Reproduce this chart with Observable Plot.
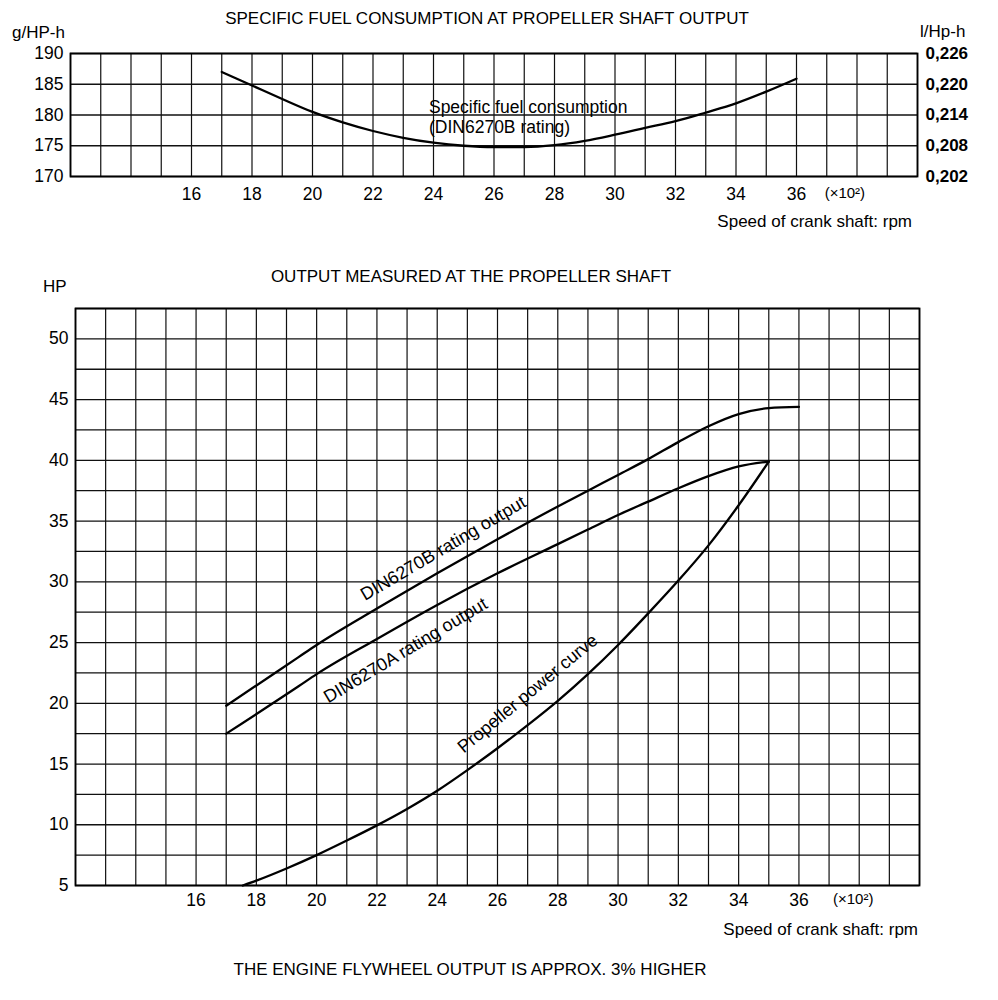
<!DOCTYPE html>
<html>
<head>
<meta charset="utf-8">
<script src="https://cdn.jsdelivr.net/npm/d3@7"></script>
<script src="https://cdn.jsdelivr.net/npm/@observablehq/plot@0.6"></script>
<style>
  html, body { margin: 0; padding: 0; background: #fff; }
  #root { position: relative; width: 998px; height: 1000px; background: #fff; overflow: hidden;
          font-family: "Liberation Sans", Arial, Helvetica, sans-serif; color: #000; }
  .lbl { position: absolute; font-size: 17px; line-height: 17px; white-space: nowrap; }
  .plot { position: absolute; left: 0; }
</style>
</head>
<body>
<div id="root"></div>
<script>
// ---------- data ----------
// Specific fuel consumption (g/HP-h) vs crank shaft speed (x100 rpm)
const sfcRpm = [17, 18, 19, 20, 21, 22, 23, 24, 25, 26, 27, 28, 29, 30, 31, 32, 33, 34, 35, 36];
const sfcGph = [187.0, 184.8, 182.6, 180.5, 178.8, 177.4, 176.3, 175.5, 175.0, 174.8, 174.8, 175.1, 175.8, 176.8, 177.9, 179.0, 180.4, 181.9, 183.8, 185.9];

// DIN6270B rating output (HP)
const rpmB = [17, 19.4, 20, 22, 24, 26, 28, 29, 30, 31, 32, 33, 34, 35, 36];
const hpB  = [19.8, 23.8, 24.8, 27.8, 30.7, 33.5, 36.2, 37.5, 38.8, 40.1, 41.5, 42.8, 43.8, 44.3, 44.4];

// DIN6270A rating output (HP)
const rpmA = [17, 19.4, 20, 22, 24, 26, 28, 29, 30, 31, 32, 33, 34, 35];
const hpA  = [17.5, 21.4, 22.4, 25.3, 28.1, 30.7, 33.1, 34.3, 35.5, 36.6, 37.7, 38.7, 39.5, 39.9];

// Propeller power curve (HP)
const rpmProp = [17.55, 18, 19, 20, 21, 22, 23, 24, 25, 26, 27, 28, 29, 30, 31, 32, 33, 34, 35];
const hpProp  = [5.0, 5.4, 6.4, 7.5, 8.7, 9.95, 11.3, 12.8, 14.5, 16.3, 18.2, 20.2, 22.4, 24.8, 27.4, 30.1, 33.0, 36.3, 39.9];

// axis ticks / labels
const xTickLabels = [16, 18, 20, 22, 24, 26, 28, 30, 32, 34, 36];
const xGrid = d3.range(12, 41, 1);
const sfcTicks = [170, 175, 180, 185, 190];
const lphLabels = ["0,202", "0,208", "0,214", "0,220", "0,226"];
const hpTicks = [5, 10, 15, 20, 25, 30, 35, 40, 45, 50];
const hpGrid = d3.range(5, 52.6, 2.5);
const unitNote = "(×10²)";

// ---------- helpers ----------
const root = document.getElementById("root");
const FONT = '"Liberation Sans", Arial, Helvetica, sans-serif';
function label(text, {left, right, cx, cy, size = 17, weight = "normal"}) {
  const d = document.createElement("div");
  d.className = "lbl";
  d.textContent = text;
  d.style.fontSize = size + "px";
  d.style.lineHeight = size + "px";
  d.style.fontWeight = weight;
  d.style.top = (cy - size * 0.5) + "px";
  if (left != null) d.style.left = left + "px";
  if (right != null) d.style.right = (998 - right) + "px";
  if (cx != null) { d.style.left = cx + "px"; d.style.transform = "translateX(-50%)"; }
  root.appendChild(d);
}
const toPts = (xs, ys) => xs.map((x, i) => ({x, y: ys[i]}));

// ---------- top chart: specific fuel consumption ----------
const lphMap = new Map(sfcTicks.map((t, i) => [t, lphLabels[i]]));
const chartTop = Plot.plot({
  width: 998, height: 240,
  marginTop: 53, marginBottom: 64, marginLeft: 70, marginRight: 81,
  style: {fontFamily: FONT, fontSize: "17px", background: "white", color: "black", overflow: "visible"},
  x: {domain: [12, 40]},
  y: {domain: [170, 190]},
  marks: [
    Plot.ruleX(xGrid, {x: d => d, stroke: "#111", strokeWidth: 1.2}),
    Plot.ruleY(sfcTicks, {y: d => d, stroke: "#111", strokeWidth: 1.3}),
    Plot.frame({stroke: "#000", strokeWidth: 1.8}),
    Plot.axisX(xTickLabels, {tickSize: 0, tickPadding: 11, fontSize: 17.5, label: null}),
    Plot.text([unitNote], {x: () => 37.6, frameAnchor: "bottom", lineAnchor: "middle", dy: 17, text: d => d, fontSize: 15}),
    Plot.axisY(sfcTicks, {anchor: "left", tickSize: 0, tickPadding: 7, fontSize: 17.5, label: null}),
    Plot.axisY(sfcTicks, {anchor: "right", tickSize: 0, tickPadding: 8, fontSize: 17, fontWeight: "bold",
                          tickFormat: d => lphMap.get(d), label: null}),
    Plot.line(toPts(sfcRpm, sfcGph), {x: "x", y: "y", curve: "monotone-x", stroke: "#000", strokeWidth: 2.3}),
    Plot.text(["Specific fuel consumption", "(DIN6270B rating)"], {
      x: () => 23.85, y: (d, i) => [181.3, 178.0][i], text: d => d,
      textAnchor: "start", fontSize: 17.5, fill: "#000"})
  ]
});
chartTop.classList.add("plot");
chartTop.style.top = "0px";
root.appendChild(chartTop);

// ---------- bottom chart: output at propeller shaft ----------
const chartBottom = Plot.plot({
  width: 998, height: 710,
  marginTop: 58, marginBottom: 75, marginLeft: 75, marginRight: 79,
  style: {fontFamily: FONT, fontSize: "17px", background: "white", color: "black", overflow: "visible"},
  x: {domain: [12, 40]},
  y: {domain: [5, 52.5]},
  marks: [
    Plot.ruleX(xGrid, {x: d => d, stroke: "#111", strokeWidth: 1.2}),
    Plot.ruleY(hpGrid, {y: d => d, stroke: "#111", strokeWidth: 1.3}),
    Plot.frame({stroke: "#000", strokeWidth: 1.8}),
    Plot.axisX(xTickLabels, {tickSize: 0, tickPadding: 8, fontSize: 17.5, label: null}),
    Plot.text([unitNote], {x: () => 37.8, frameAnchor: "bottom", lineAnchor: "middle", dy: 14, text: d => d, fontSize: 15}),
    Plot.axisY(hpTicks, {anchor: "left", tickSize: 0, tickPadding: 7, fontSize: 17.5, label: null}),
    Plot.line(toPts(rpmB, hpB), {x: "x", y: "y", curve: "monotone-x", stroke: "#000", strokeWidth: 2.3}),
    Plot.line(toPts(rpmA, hpA), {x: "x", y: "y", curve: "monotone-x", stroke: "#000", strokeWidth: 2.3}),
    Plot.line(toPts(rpmProp, hpProp), {x: "x", y: "y", curve: "monotone-x", stroke: "#000", strokeWidth: 2.3}),
    Plot.text(["DIN6270B rating output"], {x: () => 24.2, y: () => 32.75, text: d => d, rotate: -30.5, fontSize: 18}),
    Plot.text(["DIN6270A rating output"], {x: () => 22.95, y: () => 24.35, text: d => d, rotate: -31, fontSize: 18}),
    Plot.text(["Propeller power curve"], {x: () => 27.0, y: () => 20.8, text: d => d, rotate: -39.5, fontSize: 18})
  ]
});
chartBottom.classList.add("plot");
chartBottom.style.top = "250px";
root.appendChild(chartBottom);

// ---------- titles / captions ----------
label("SPECIFIC FUEL CONSUMPTION AT PROPELLER SHAFT OUTPUT", {cx: 487, cy: 18});
label("g/HP-h", {left: 12, cy: 32});
label("l/Hp-h", {left: 920, cy: 31});
label("Speed of crank shaft: rpm", {right: 912, cy: 221});
label("OUTPUT MEASURED AT THE PROPELLER SHAFT", {cx: 471, cy: 276});
label("HP", {left: 43, cy: 286});
label("Speed of crank shaft: rpm", {right: 918, cy: 929});
label("THE ENGINE FLYWHEEL OUTPUT IS APPROX. 3% HIGHER", {cx: 470, cy: 969});
</script>
</body>
</html>
